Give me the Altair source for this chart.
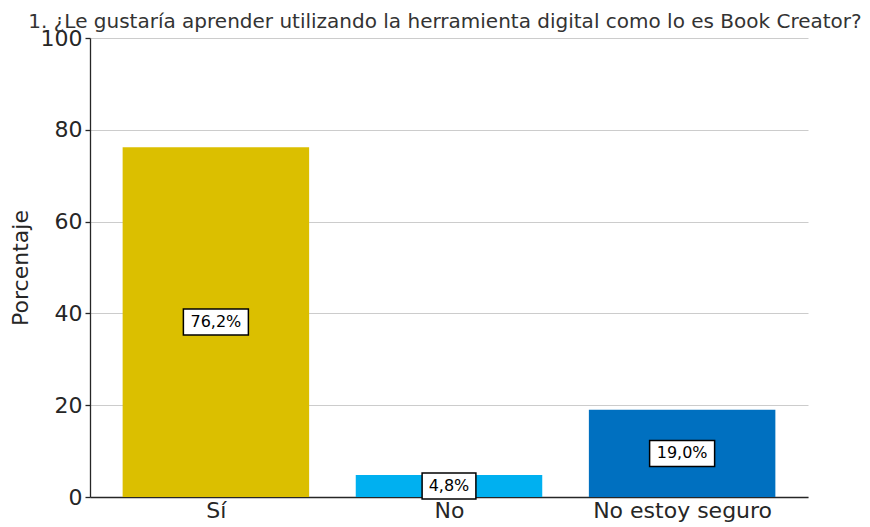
import altair as alt
import pandas as pd

categories = ["Sí", "No", "No estoy seguro"]
values = [76.2, 4.8, 19.0]
labels = ["76,2%", "4,8%", "19,0%"]
colors = ["#DBBF00", "#00B0F0", "#0070C0"]
title = "1. ¿Le gustaría aprender utilizando la herramienta digital como lo es Book Creator?"

df = pd.DataFrame({
    "idx": list(range(len(categories))),
    "cat": categories,
    "val": values,
    "label": labels,
})

FONT = "DejaVu Sans"
W, H = 718, 459
step = W / 3.08

base = alt.Chart(df).transform_calculate(
    x0="datum.idx - 0.4",
    x1="datum.idx + 0.4",
    zero="0",
    mid="datum.val / 2",
    bx0=f"datum.idx - (length(datum.label) * 5.6 + 4.5) / {step}",
    bx1=f"datum.idx + (length(datum.label) * 5.6 + 4.5) / {step}",
)

label_expr = "datum.value == 0 ? 'Sí' : datum.value == 1 ? 'No' : datum.value == 2 ? 'No estoy seguro' : ''"

xscale = alt.Scale(domain=[-0.54, 2.54], nice=False, zero=False, padding=0)
yscale = alt.Scale(domain=[0, 100], nice=False, padding=0)

bars = base.mark_bar().encode(
    x=alt.X("x0:Q", scale=xscale,
            axis=alt.Axis(values=[0, 1, 2], labelExpr=label_expr, title=None,
                          grid=False, ticks=False, labelFontSize=22, labelPadding=3,
                          labelColor="#262626", labelFont=FONT, labelFlush=False,
                          domainColor="#262626", domainWidth=1.3)),
    x2="x1:Q",
    y=alt.Y("val:Q", scale=yscale,
            axis=alt.Axis(values=[0, 20, 40, 60, 80, 100], title="Porcentaje",
                          titleFontSize=22, titleFont=FONT, titleColor="#262626",
                          titleFontWeight="normal", titlePadding=8,
                          labelFontSize=22, labelFont=FONT, labelColor="#262626",
                          labelFlush=False,
                          tickSize=5, tickColor="#262626", tickWidth=1.3, labelPadding=3,
                          domainColor="#262626", domainWidth=1.3,
                          grid=True, gridColor="#cccccc", gridWidth=1)),
    y2="zero:Q",
    color=alt.Color("cat:N", scale=alt.Scale(domain=categories, range=colors), legend=None),
)

boxes = base.mark_rect(fill="white", stroke="black", strokeWidth=1.5,
                       yOffset=-13, y2Offset=13).encode(
    x=alt.X("bx0:Q", scale=xscale),
    x2="bx1:Q",
    y=alt.Y("mid:Q", scale=yscale),
    y2="mid:Q",
)

texts = base.mark_text(font=FONT, fontSize=16, color="black", baseline="middle").encode(
    x=alt.X("idx:Q", scale=xscale),
    y=alt.Y("mid:Q", scale=yscale),
    text="label:N",
)

chart = alt.layer(bars, boxes, texts).properties(
    width=W, height=H,
    title=alt.TitleParams(title, fontSize=20, font=FONT, fontWeight="normal",
                          color="#333333", anchor="middle", offset=4, dy=9, dx=-4),
    autosize=alt.AutoSizeParams(type="none"),
    padding={"left": 82, "top": 30, "right": 54, "bottom": 28},
).configure_view(stroke=None)

chart.save("out.html", embed_options={"renderer": "svg", "actions": False})
